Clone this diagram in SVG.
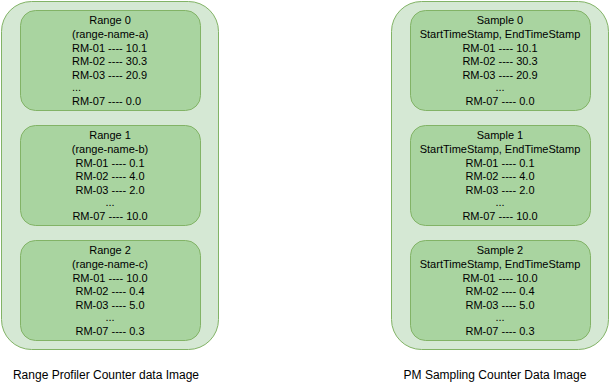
<svg xmlns="http://www.w3.org/2000/svg" width="611" height="391" viewBox="0 0 611 391">
<style>
.outer{fill:#d5e8d4;stroke:#82b366;stroke-width:1}
.inner{fill:#a9d4a0;stroke:#82b366;stroke-width:1}
text{font-family:"Liberation Sans",Arial,sans-serif;font-size:11px;fill:#000}
.c{text-anchor:middle}
.lbl{font-size:12px}
</style>
<rect width="611" height="391" fill="#ffffff"/>
<g id="range-container"><rect class="outer" x="1.5" y="1.5" width="217" height="348" rx="30"/></g>
<g id="sample-container"><rect class="outer" x="391.5" y="1.5" width="217" height="348" rx="30"/></g>
<g id="connectors"></g>
<g id="range0">
<rect class="inner" x="20.5" y="10.5" width="180" height="100" rx="15"/>
<text class="c" x="110" y="24">Range 0</text>
<text x="72" y="38">(range-name-a)</text>
<text x="72" y="51.5">RM-01 ---- 10.1</text>
<text x="72" y="65">RM-02 ---- 30.3</text>
<text x="72" y="78.5">RM-03 ---- 20.9</text>
<text x="72" y="91">...</text>
<text x="72" y="105">RM-07 ---- 0.0</text>
</g>
<g id="range1">
<rect class="inner" x="20.5" y="125.5" width="180" height="100" rx="15"/>
<text class="c" x="110" y="139">Range 1</text>
<text class="c" x="110" y="153">(range-name-b)</text>
<text class="c" x="110" y="166.5">RM-01 ---- 0.1</text>
<text class="c" x="110" y="180">RM-02 ---- 4.0</text>
<text class="c" x="110" y="193.5">RM-03 ---- 2.0</text>
<text class="c" x="110" y="206">...</text>
<text class="c" x="110" y="220">RM-07 ---- 10.0</text>
</g>
<g id="range2">
<rect class="inner" x="20.5" y="240.5" width="180" height="100" rx="15"/>
<text class="c" x="110" y="254">Range 2</text>
<text class="c" x="110" y="268">(range-name-c)</text>
<text class="c" x="110" y="281.5">RM-01 ---- 10.0</text>
<text class="c" x="110" y="295">RM-02 ---- 0.4</text>
<text class="c" x="110" y="308.5">RM-03 ---- 5.0</text>
<text class="c" x="110" y="321">...</text>
<text class="c" x="110" y="335">RM-07 ---- 0.3</text>
</g>
<g id="sample0">
<rect class="inner" x="410.5" y="10.5" width="180" height="100" rx="15"/>
<text class="c" x="500" y="24">Sample 0</text>
<text class="c" x="500" y="38">StartTimeStamp, EndTimeStamp</text>
<text class="c" x="500" y="51.5">RM-01 ---- 10.1</text>
<text class="c" x="500" y="65">RM-02 ---- 30.3</text>
<text class="c" x="500" y="78.5">RM-03 ---- 20.9</text>
<text class="c" x="500" y="91">...</text>
<text class="c" x="500" y="105">RM-07 ---- 0.0</text>
</g>
<g id="sample1">
<rect class="inner" x="410.5" y="125.5" width="180" height="100" rx="15"/>
<text class="c" x="500" y="139">Sample 1</text>
<text class="c" x="500" y="153">StartTimeStamp, EndTimeStamp</text>
<text class="c" x="500" y="166.5">RM-01 ---- 0.1</text>
<text class="c" x="500" y="180">RM-02 ---- 4.0</text>
<text class="c" x="500" y="193.5">RM-03 ---- 2.0</text>
<text class="c" x="500" y="206">...</text>
<text class="c" x="500" y="220">RM-07 ---- 10.0</text>
</g>
<g id="sample2">
<rect class="inner" x="410.5" y="240.5" width="180" height="100" rx="15"/>
<text class="c" x="500" y="254">Sample 2</text>
<text class="c" x="500" y="268">StartTimeStamp, EndTimeStamp</text>
<text class="c" x="500" y="281.5">RM-01 ---- 10.0</text>
<text class="c" x="500" y="295">RM-02 ---- 0.4</text>
<text class="c" x="500" y="308.5">RM-03 ---- 5.0</text>
<text class="c" x="500" y="321">...</text>
<text class="c" x="500" y="335">RM-07 ---- 0.3</text>
</g>
<g id="labels">
<text class="c lbl" x="106" y="379">Range Profiler Counter data Image</text>
<text class="c lbl" x="495" y="379">PM Sampling Counter Data Image</text>
</g>
</svg>
